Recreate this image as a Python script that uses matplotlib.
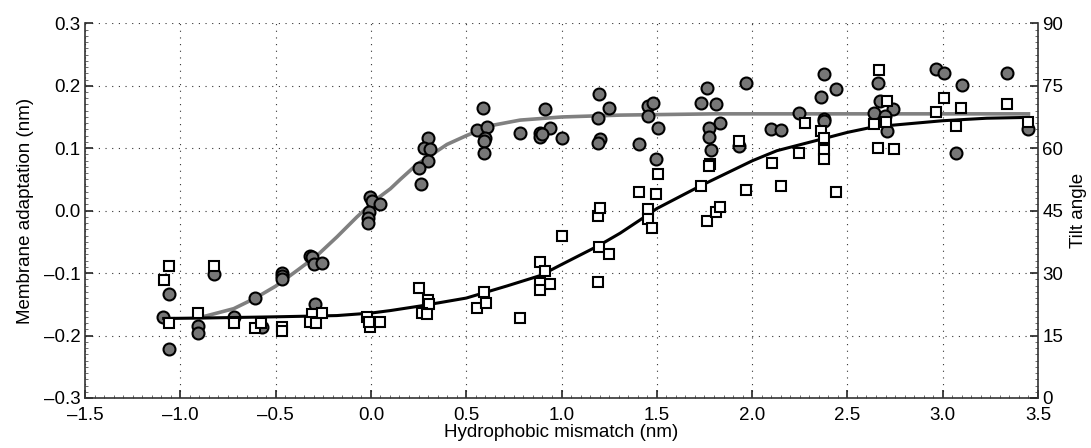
import matplotlib
matplotlib.use("Agg")
import matplotlib.pyplot as plt
from matplotlib.ticker import MultipleLocator, FuncFormatter

plt.rcParams['font.family'] = ['Liberation Sans', 'DejaVu Sans']

# Membrane adaptation (nm) data – gray circles
circ_x = [-1.061, -1.091, -1.061, -0.825, -0.907, -0.907, -0.720, -0.606, -0.571,
          -0.466, -0.466, -0.466, -0.318, -0.310, -0.300, -0.256, -0.291,
          -0.003, 0.006, 0.050, -0.011, -0.017, -0.017,
          0.302, 0.276, 0.308, 0.299, 0.253, 0.264,
          0.587, 0.556, 0.608, 0.600, 0.594, 0.591, 0.783,
          0.911, 0.941, 0.888, 0.885, 0.897, 1.002,
          1.195, 1.251, 1.191, 1.200, 1.190,
          1.404, 1.453, 1.479, 1.453, 1.505, 1.497,
          1.766, 1.731, 1.811, 1.829, 1.775, 1.776, 1.783,
          1.969, 1.929, 2.100, 2.151, 2.244,
          2.375, 2.361, 2.375, 2.378, 2.440,
          2.663, 2.671, 2.741, 2.640, 2.698, 2.706,
          2.965, 3.007, 3.100, 3.070, 3.336, 3.450]
circ_y = [-0.133, -0.170, -0.221, -0.101, -0.184, -0.196, -0.170, -0.140, -0.187,
          -0.100, -0.105, -0.110, -0.072, -0.075, -0.085, -0.084, -0.149,
          0.022, 0.016, 0.011, -0.002, -0.011, -0.020,
          0.117, 0.100, 0.099, 0.079, 0.069, 0.042,
          0.165, 0.129, 0.134, 0.116, 0.112, 0.092, 0.125,
          0.163, 0.132, 0.125, 0.118, 0.122, 0.117,
          0.187, 0.164, 0.148, 0.115, 0.109,
          0.107, 0.167, 0.172, 0.152, 0.133, 0.082,
          0.196, 0.173, 0.170, 0.141, 0.133, 0.118, 0.097,
          0.205, 0.104, 0.130, 0.129, 0.157,
          0.219, 0.182, 0.147, 0.144, 0.195,
          0.204, 0.175, 0.163, 0.156, 0.152, 0.128,
          0.227, 0.220, 0.202, 0.093, 0.221, 0.131]

# Tilt angle data – white squares (degrees, right axis)
sq_x = [-1.058, -1.087, -1.058, -0.825, -0.907, -0.720, -0.606, -0.577, -0.466, -0.466,
        -0.309, -0.321, -0.288, -0.256, -0.020, -0.003, 0.050, -0.011,
        0.253, 0.302, 0.305, 0.267, 0.293, 0.596, 0.559, 0.605, 0.783,
        0.888, 0.911, 0.941, 0.888, 0.885, 1.002, 1.195, 1.251, 1.191, 1.190, 1.203,
        1.404, 1.505, 1.497, 1.456, 1.456, 1.477, 1.731, 1.780, 1.775, 1.766, 1.810, 1.829,
        1.929, 1.969, 2.104, 2.151, 2.244, 2.279, 2.361, 2.375, 2.375, 2.375, 2.440,
        2.668, 2.706, 2.640, 2.703, 2.663, 2.747, 2.964, 3.009, 3.097, 3.070, 3.336, 3.450]
sq_tilt = [31.7, 28.4, 18.0, 31.7, 20.4, 18.0, 16.8, 18.0, 17.1, 16.1,
           20.1, 18.2, 18.0, 20.4, 19.4, 17.0, 18.2, 18.2,
           26.4, 23.6, 22.5, 20.4, 20.1, 25.5, 21.5, 22.8, 19.2,
           32.6, 30.5, 27.3, 27.6, 26.0, 38.9, 36.2, 34.7, 27.9, 43.8, 45.6,
           49.5, 53.9, 48.9, 45.5, 43.1, 40.8, 50.9, 56.1, 55.7, 42.5, 44.6, 45.8,
           61.8, 49.9, 56.4, 51.0, 58.9, 66.0, 64.2, 62.4, 59.6, 57.5, 49.4,
           78.8, 71.4, 65.7, 66.2, 60.0, 59.7, 68.7, 72.0, 69.6, 65.4, 70.5, 66.3]

# Fitted curves
gray_fit_x = [-0.895, -0.72, -0.606, -0.5, -0.388, -0.283, -0.178, -0.073, 0.032, 0.102,
              0.154, 0.241, 0.311, 0.399, 0.5, 0.626, 0.783, 1.002, 1.308, 1.8, 2.4, 3.0, 3.45]
gray_fit_y = [-0.171, -0.157, -0.140, -0.121, -0.096, -0.072, -0.042, -0.010, 0.019, 0.035,
              0.050, 0.074, 0.088, 0.106, 0.120, 0.136, 0.145, 0.150, 0.153, 0.155, 0.155, 0.155, 0.155]
black_fit_x = [-1.087, -0.895, -0.5, -0.178, 0.0, 0.102, 0.259, 0.5, 0.713, 0.888, 1.002,
               1.195, 1.308, 1.456, 1.5, 1.731, 2.002, 2.130, 2.375, 2.5, 2.636, 2.706,
               3.0, 3.231, 3.45]
black_fit_tilt = [19.1, 19.2, 19.5, 19.8, 20.4, 21.0, 22.1, 24.0, 26.9, 29.4, 32.1,
                  36.6, 39.6, 44.1, 45.5, 51.0, 57.0, 59.4, 62.3, 63.8, 65.1, 65.4,
                  66.6, 67.2, 67.4]

xticks = [-1.5, -1.0, -0.5, 0.0, 0.5, 1.0, 1.5, 2.0, 2.5, 3.0, 3.5]
yticks = [-0.3, -0.2, -0.1, 0.0, 0.1, 0.2, 0.3]
tilt_ticks = [0, 15, 30, 45, 60, 75, 90]

FS = 13.5


def fmt1(v, pos):
    s = '%.1f' % v
    if s == '-0.0':
        s = '0.0'
    return s.replace('-', '\u2013')


fig = plt.figure(figsize=(10.91, 4.48), dpi=100)
ax = fig.add_axes([85/1091, 1-398/448, (1038-85)/1091, (398-23.3)/448])
ax2 = ax.twinx()

ax.plot(gray_fit_x, gray_fit_y, color='#808080', lw=2.6, zorder=2)
ax.plot(circ_x, circ_y, 'o', ms=8.6, mfc='#777777', mec='black', mew=1.5, zorder=3)

ax2.plot(black_fit_x, black_fit_tilt, color='black', lw=2.2, zorder=2)
ax2.plot(sq_x, sq_tilt, 's', ms=7.6, mfc='white', mec='black', mew=1.5, zorder=3)

ax.set_xlim(-1.5, 3.5)
ax.set_ylim(-0.3, 0.3)
ax2.set_ylim(0, 90)
ax.set_xticks(xticks)
ax.set_yticks(yticks)
ax2.set_yticks(tilt_ticks)
ax.xaxis.set_major_formatter(FuncFormatter(fmt1))
ax.yaxis.set_major_formatter(FuncFormatter(fmt1))
ax.xaxis.set_minor_locator(MultipleLocator(0.05))
ax.yaxis.set_minor_locator(MultipleLocator(0.01))
ax2.yaxis.set_minor_locator(MultipleLocator(1.5))

ax.grid(True, which='major', linestyle=(0, (1, 5)), color='#333333', linewidth=0.8)

for a in (ax, ax2):
    a.spines['top'].set_visible(False)
    for s in ('left', 'right', 'bottom'):
        a.spines[s].set_color('#333333')
        a.spines[s].set_linewidth(1.2)
ax.spines['right'].set_visible(False)
ax2.spines['left'].set_visible(False)
ax2.spines['bottom'].set_visible(False)

for a in (ax, ax2):
    a.tick_params(which='major', direction='in', length=6, width=1.2, labelsize=FS, color='#222222')
    a.tick_params(which='minor', direction='in', length=2, width=0.6, color='#555555')
ax.tick_params(axis='x', pad=6.5)
ax.tick_params(axis='y', pad=3)
ax2.tick_params(axis='y', pad=3)

ax.set_xlabel('Hydrophobic mismatch (nm)', fontsize=FS, labelpad=0)
ax.set_ylabel('Membrane adaptation (nm)', fontsize=FS, labelpad=7)
ax2.set_ylabel('Tilt angle', fontsize=FS, labelpad=5)

fig.savefig('out.png', dpi=100)
